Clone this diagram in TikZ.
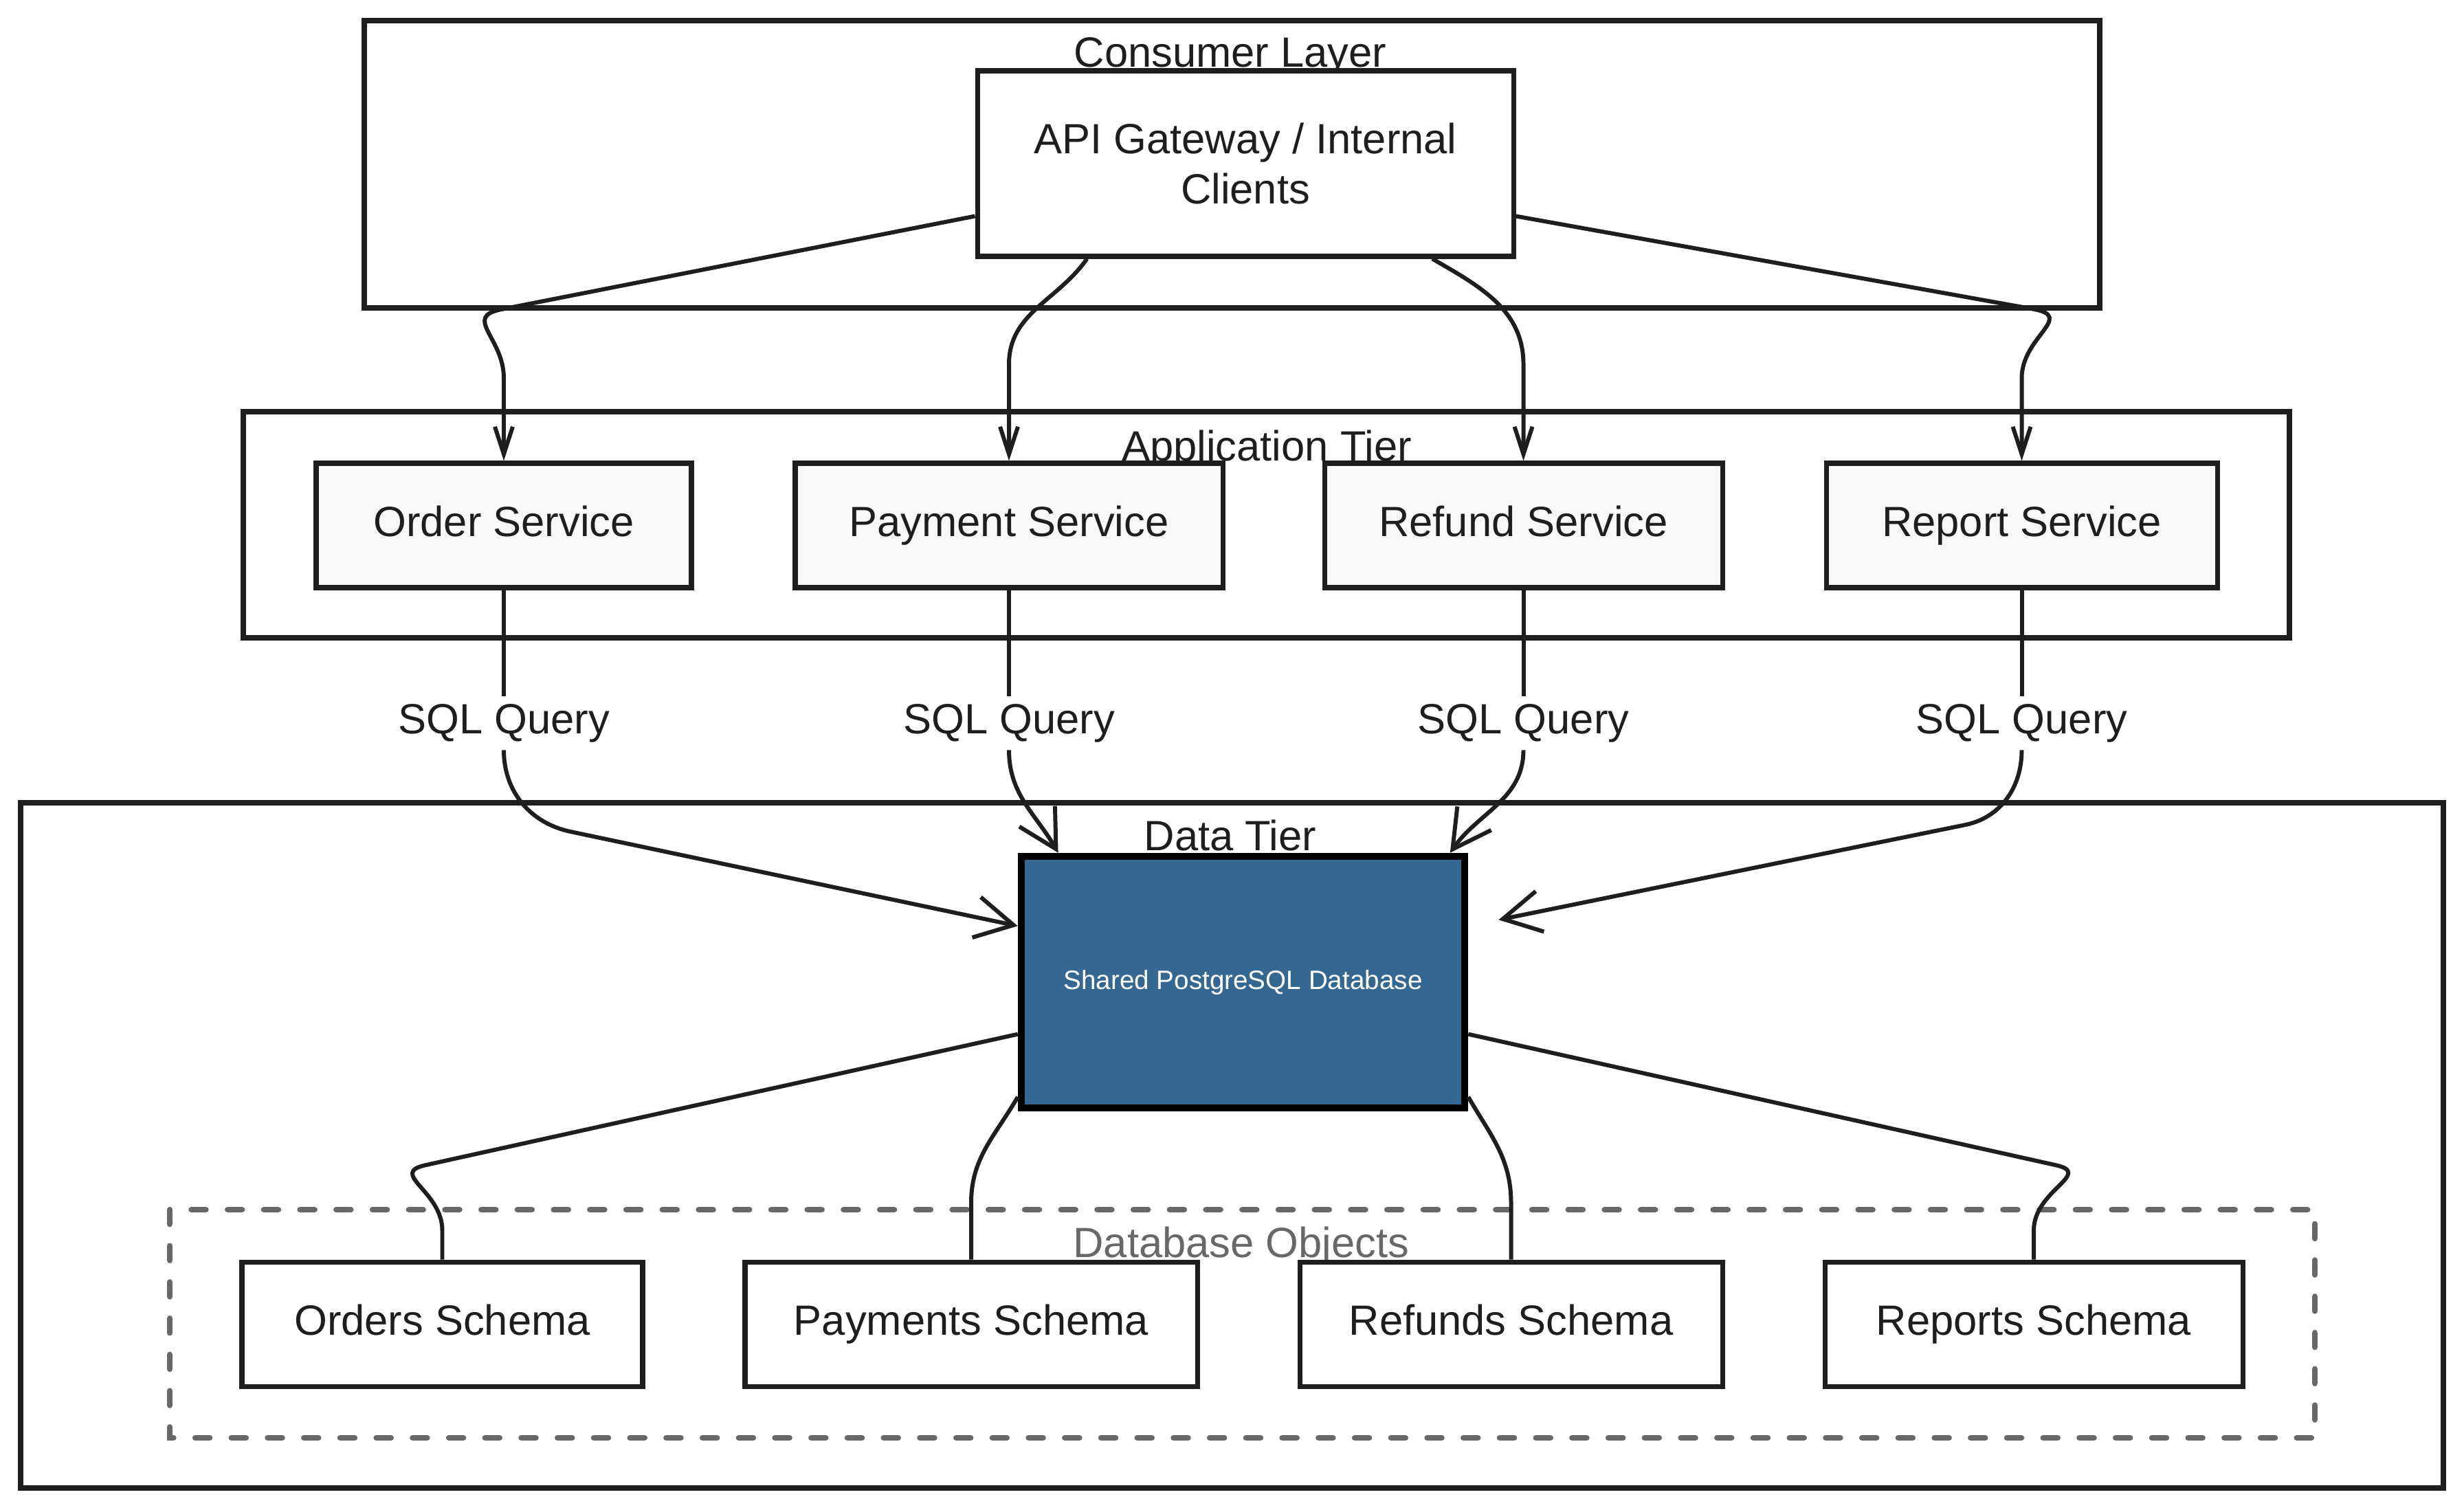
\documentclass[tikz,border=0pt]{standalone}
\usepackage{fontspec}
\setmainfont{Liberation Sans}
\usetikzlibrary{arrows.meta, positioning}
\definecolor{inkdark}{RGB}{30,30,30}
\definecolor{svcgray}{RGB}{248,248,248}
\definecolor{pgblue}{RGB}{52,103,146}
\definecolor{objgray}{RGB}{104,104,104}

\begin{document}
\begin{tikzpicture}[
  txt/.style={font=\fontsize{17.5}{21}\selectfont, text=inkdark},
  frame/.style={draw=inkdark, line width=2.2pt},
  objframe/.style={draw=objgray, line width=2.4pt, dash pattern=on 6pt off 9pt, line cap=round},
  tierlbl/.style={txt, inner sep=0pt, text height=12.5pt, text depth=3.5pt},
  box/.style={draw=inkdark, line width=2pt, inner sep=0pt, minimum height=1.81cm, txt},
  svc/.style={box, fill=svcgray, text height=12.5pt, text depth=3.5pt},
  schema/.style={box, fill=white, text height=12.5pt, text depth=3.5pt},
  gwnode/.style={box, fill=white, minimum width=7.8cm, minimum height=2.7cm, align=center},
  dbnode/.style={draw=black, line width=3pt, fill=pgblue, minimum width=6.45cm,
    minimum height=3.66cm, text=white, font=\fontsize{11}{13}\selectfont},
  qlbl/.style={txt, inner sep=3pt, text height=12.5pt, text depth=3.5pt},
  arr/.style={draw=inkdark, line width=1.7pt, -{Straight Barb[length=4mm,width=2.6mm]}},
  qarr/.style={draw=inkdark, line width=1.7pt, -{Straight Barb[length=5.5mm,width=6mm]}},
  link/.style={draw=inkdark, line width=1.7pt}
]
  \useasboundingbox (0,0) rectangle (35.85,-21.97);

  % tier frames
  \draw[frame] (5.30,-0.30) rectangle (30.55,-4.48);
  \draw[frame] (3.54,-5.99) rectangle (33.31,-9.28);
  \draw[frame] (0.30,-11.68) rectangle (35.55,-21.65);
  \draw[objframe] (2.47,-17.60) rectangle (33.68,-20.92);

  \node[tierlbl] (consumer) at (17.90,-0.82) {Consumer Layer};
  \node[tierlbl] (apptier)  at (18.43,-6.55) {Application Tier};
  \node[tierlbl] (datatier) at (17.90,-12.22) {Data Tier};
  \node[tierlbl, text=objgray] (dbobj) at (18.06,-18.14) {Database Objects};

  % consumer
  \node[gwnode] (gw) at (18.12,-2.38) {API Gateway / Internal\\Clients};

  % services
  \node[svc, minimum width=5.46cm] (svcO) at (7.33,-7.645)   {Order Service};
  \node[svc, minimum width=6.22cm] (svcP) at (14.68,-7.645)  {Payment Service};
  \node[svc, minimum width=5.79cm] (svcF) at (22.165,-7.645) {Refund Service};
  \node[svc, minimum width=5.69cm] (svcR) at (29.415,-7.645) {Report Service};

  \node[qlbl] (qO) at (7.33,-10.52)   {SQL Query};
  \node[qlbl] (qP) at (14.68,-10.52)  {SQL Query};
  \node[qlbl] (qF) at (22.165,-10.52) {SQL Query};
  \node[qlbl] (qR) at (29.415,-10.52) {SQL Query};

  % data tier
  \node[dbnode] (db) at (18.085,-14.29) {Shared PostgreSQL Database};

  \node[schema, minimum width=5.83cm] (schO) at (6.435,-19.265)  {Orders Schema};
  \node[schema, minimum width=6.58cm] (schP) at (14.13,-19.265)  {Payments Schema};
  \node[schema, minimum width=6.15cm] (schF) at (21.985,-19.265) {Refunds Schema};
  \node[schema, minimum width=6.08cm] (schR) at (29.59,-19.265)  {Reports Schema};

  % gateway -> services
  \draw[arr] (gw.191) -- (7.3,-4.5) to[out=191,in=90,looseness=1.5] (7.33,-5.5) -- (svcO.north);
  \draw[arr] (gw.211) to[out=235,in=90] (14.68,-5.3) -- (svcP.north);
  \draw[arr] (gw.333) to[out=-30,in=90] (22.165,-5.3) -- (svcF.north);
  \draw[arr] (gw.349) -- (29.6,-4.5) to[out=-11,in=90,looseness=1.5] (29.415,-5.5) -- (svcR.north);

  % services -> database
  \draw[link] (svcO.south) -- (qO.north);
  \draw[link] (svcP.south) -- (qP.north);
  \draw[link] (svcF.south) -- (qF.north);
  \draw[link] (svcR.south) -- (qR.north);
  \draw[qarr] (qO.south) to[out=-90,in=168] (8.3,-12.1) -- (db.166);
  \draw[qarr] (qP.south) to[out=-90,in=120] (db.145);
  \draw[qarr] (qF.south) to[out=-90,in=55] (db.32);
  \draw[qarr, shorten >=0.45cm] (qR.south) to[out=-90,in=12] (28.6,-12.0) -- (db.14);

  % database -> schemas
  \draw[link] (db.193) -- (6.2,-16.95) to[out=192,in=90,looseness=1.5] (6.435,-17.9) -- (schO.north);
  \draw[link] (db.207) to[out=240,in=90] (14.13,-17.5) -- (schP.north);
  \draw[link] (db.333) to[out=-60,in=90] (21.985,-17.5) -- (schF.north);
  \draw[link] (db.347) -- (29.9,-16.95) to[out=-12,in=90,looseness=1.5] (29.59,-17.9) -- (schR.north);
\end{tikzpicture}
\end{document}
